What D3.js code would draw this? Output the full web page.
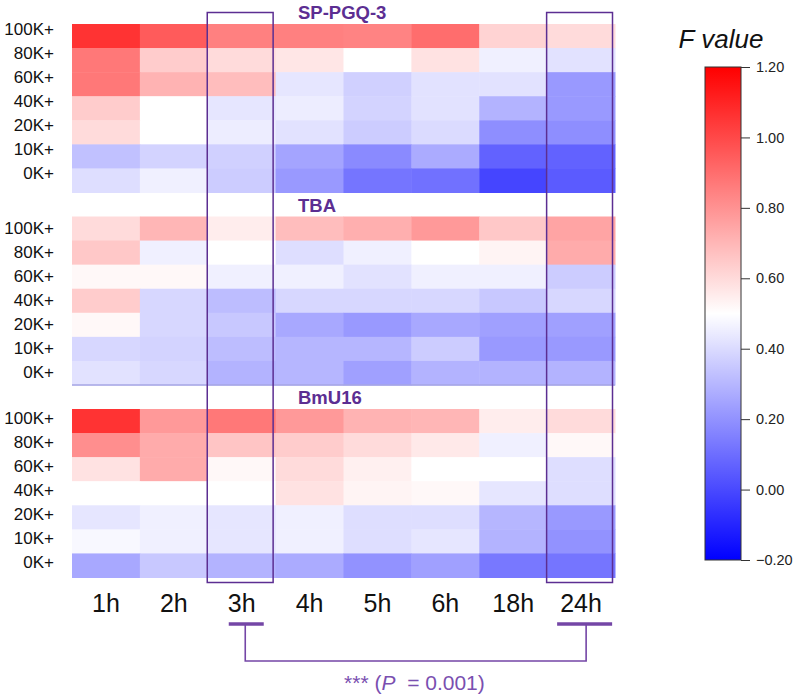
<!DOCTYPE html>
<html><head><meta charset="utf-8">
<script src="https://cdn.jsdelivr.net/npm/d3@7"></script>
<style>body{margin:0;background:#fff}svg{display:block}</style>
</head><body>
<script>
const times = ["1h","2h","3h","4h","5h","6h","18h","24h"];
const sizes = ["100K+","80K+","60K+","40K+","20K+","10K+","0K+"];
const panelNames = ["SP-PGQ-3","TBA","BmU16"];
const spValues = [
  [1.06,0.95,0.85,0.85,0.84,0.90,0.62,0.60],
  [0.87,0.64,0.60,0.57,0.50,0.58,0.46,0.42],
  [0.87,0.71,0.68,0.43,0.37,0.42,0.42,0.22],
  [0.64,0.50,0.43,0.45,0.38,0.42,0.29,0.22],
  [0.60,0.50,0.45,0.42,0.36,0.40,0.19,0.19],
  [0.33,0.38,0.37,0.25,0.18,0.27,0.07,0.07],
  [0.41,0.46,0.36,0.22,0.12,0.11,-0.01,0.05]
];
const tbaValues = [
  [0.60,0.70,0.55,0.68,0.72,0.78,0.65,0.75],
  [0.65,0.46,0.50,0.41,0.46,0.50,0.53,0.73],
  [0.52,0.52,0.46,0.46,0.42,0.46,0.46,0.36],
  [0.64,0.39,0.32,0.39,0.39,0.39,0.35,0.39],
  [0.52,0.39,0.35,0.26,0.22,0.26,0.24,0.24],
  [0.39,0.38,0.32,0.30,0.30,0.36,0.22,0.22],
  [0.42,0.39,0.29,0.30,0.24,0.29,0.29,0.29]
];
const bmValues = [
  [1.06,0.78,0.87,0.78,0.71,0.70,0.55,0.60],
  [0.81,0.73,0.66,0.64,0.60,0.56,0.46,0.52],
  [0.58,0.73,0.52,0.60,0.54,0.50,0.50,0.41],
  [0.50,0.50,0.50,0.58,0.53,0.52,0.43,0.41],
  [0.43,0.46,0.43,0.46,0.41,0.41,0.30,0.22],
  [0.48,0.46,0.43,0.46,0.41,0.43,0.29,0.20],
  [0.26,0.35,0.29,0.27,0.20,0.24,0.13,0.12]
];
const colorTicks = [1.2,1.0,0.8,0.6,0.4,0.2,0.0,-0.2];
const highlighted = ["3h","24h"];
const pText = {pre:"*** (", p:"P", post:"\u00a0 = 0.001)"};

const panels = [spValues, tbaValues, bmValues];
const W = 795, H = 697;
const svg = d3.select("body").append("svg").attr("width", W).attr("height", H);
const font = "'Liberation Sans', Arial, sans-serif";
const purple = "#5c2e92";

const x = d3.scaleBand().domain(times).range([72, 615]);
const panelTop = d3.scalePoint().domain(panelNames).range([24, 409]);
const panelH = 168.5;
const color = d3.scaleLinear().domain([-0.2, 0.5, 1.2]).range(["#0000ff","#ffffff","#ff0000"]).clamp(true);
const labelShift = [-7, 0, -3];

panelNames.forEach((name, pi) => {
  const top = panelTop(name);
  const y = d3.scaleBand().domain(sizes).range([top, top + panelH]);
  const g = svg.append("g");
  const cells = [];
  panels[pi].forEach((row, ri) => row.forEach((v, ci) => cells.push({s: sizes[ri], t: times[ci], v})));
  g.selectAll("rect").data(cells).join("rect")
    .attr("x", d => x(d.t)).attr("y", d => y(d.s))
    .attr("width", x.bandwidth() + 0.5).attr("height", y.bandwidth() + 0.5)
    .attr("fill", d => color(d.v));
  g.selectAll("text.yl").data(sizes).join("text").attr("class","yl")
    .attr("x", 54).attr("y", d => y(d) + y.bandwidth()/2 + labelShift[pi])
    .attr("text-anchor","end").attr("dominant-baseline","central")
    .attr("font-family", font).attr("font-size", 17).attr("fill","#111").text(d => d);
  svg.append("text").attr("x", 298).attr("y", top - 5)
    .attr("font-family", font).attr("font-weight","bold").attr("font-size", 18.5)
    .attr("fill", purple).text(name);
  if (pi === 1) {
    svg.append("line").attr("x1", x.range()[0]).attr("x2", x.range()[1])
      .attr("y1", top + panelH).attr("y2", top + panelH)
      .attr("stroke","#a6a6e4").attr("stroke-width",1.5);
  }
});

// highlight boxes
const boxTop = panelTop(panelNames[0]) - 11.5;
const boxBot = panelTop(panelNames[2]) + panelH + 5;
highlighted.forEach(t => {
  svg.append("rect").attr("x", x(t) - 0.5).attr("y", boxTop)
    .attr("width", x.bandwidth() - 2).attr("height", boxBot - boxTop)
    .attr("fill","none").attr("stroke", purple).attr("stroke-width",1.5);
});

// x labels
svg.selectAll("text.xl").data(times).join("text").attr("class","xl")
  .attr("x", d => x(d) + x.bandwidth()/2).attr("y", 612)
  .attr("text-anchor","middle").attr("font-family", font).attr("font-size", 25)
  .attr("fill","#111").text(d => d);

// bracket
const bc = "#7446a6";
const b1 = x(highlighted[0]), b2 = x(highlighted[1]);
svg.append("line").attr("x1", b1 + 21).attr("x2", b1 + 56).attr("y1", 624).attr("y2", 624)
  .attr("stroke", bc).attr("stroke-width", 3.5);
svg.append("line").attr("x1", b2 + 10).attr("x2", b2 + 65).attr("y1", 624).attr("y2", 624)
  .attr("stroke", bc).attr("stroke-width", 3.5);
svg.append("path")
  .attr("d", `M${b1+37.5},624 V661 H${b2+39} V624`)
  .attr("fill","none").attr("stroke", bc).attr("stroke-width", 1.6);
const pt = svg.append("text").attr("x", (b1 + b2)/2 + 37).attr("y", 690)
  .attr("text-anchor","middle").attr("font-family", font).attr("font-size", 21).attr("fill", "#7a4fb0");
pt.append("tspan").text(pText.pre);
pt.append("tspan").attr("font-style","italic").text(pText.p);
pt.append("tspan").text(pText.post);

// color bar
const cb = d3.scaleLinear().domain([-0.2, 1.2]).range([560, 67]);
const defs = svg.append("defs");
const grad = defs.append("linearGradient").attr("id","cbg").attr("x1",0).attr("x2",0).attr("y1",1).attr("y2",0);
d3.range(0, 1.0001, 0.05).forEach(f => {
  grad.append("stop").attr("offset", f).attr("stop-color", color(-0.2 + 1.4*f));
});
svg.append("rect").attr("x", 705).attr("y", cb(1.2)).attr("width", 36).attr("height", cb(-0.2) - cb(1.2))
  .attr("fill","url(#cbg)").attr("stroke","#333").attr("stroke-width",1);
const axis = d3.axisRight(cb).tickValues(colorTicks).tickFormat(d3.format(".2f")).tickSize(9).tickPadding(6);
const ag = svg.append("g").attr("transform","translate(741,0)").call(axis);
ag.select(".domain").remove();
ag.selectAll("line").attr("stroke","#333");
ag.selectAll("text").attr("font-family", font).attr("font-size", 14.5).attr("fill","#222");
svg.append("text").attr("x", 721).attr("y", 48).attr("text-anchor","middle")
  .attr("font-family", font).attr("font-style","italic").attr("font-size", 26).attr("fill","#111").text("F value");
</script>
</body></html>
